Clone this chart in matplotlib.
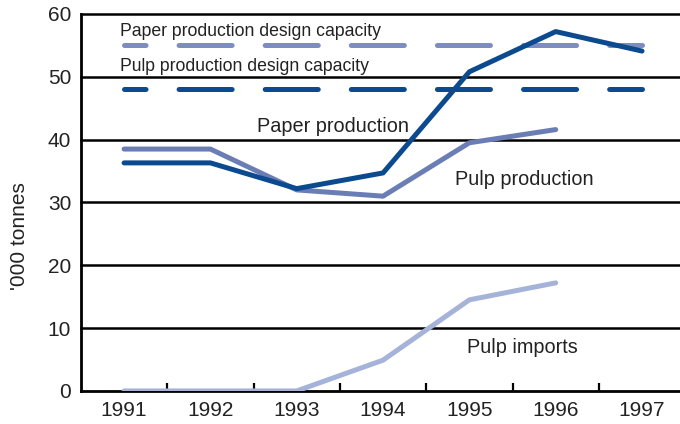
import matplotlib.pyplot as plt
from matplotlib.ticker import FixedLocator

plt.rcParams['font.family'] = ['Liberation Sans', 'DejaVu Sans']

years = [1991, 1992, 1993, 1994, 1995, 1996, 1997]
paper_production = [36.3, 36.3, 32.2, 34.7, 50.8, 57.2, 54.1]
pulp_years = [1991, 1992, 1993, 1994, 1995, 1996]
pulp_production = [38.5, 38.5, 32.0, 31.0, 39.5, 41.6]
pulp_imports = [0, 0, 0, 4.9, 14.5, 17.2]
paper_capacity = [55] * len(years)
pulp_capacity = [48] * len(years)

dark = '#0b4a8f'
mid = '#6a7db5'
light = '#a6b3d9'
cap_light = '#7d8dc2'
text_col = '#222222'

fig = plt.figure(figsize=(6.8, 4.24), dpi=100)
ax = fig.add_axes([0.119, 0.078, 0.881, 0.889])

lw = 3.6
# dash lengths in points, scaled by linewidth
on, off = 38.2 / lw, 23.8 / lw
dash = (on / 2 + 1.0, (on, off))

ax.plot(years, paper_capacity, color=cap_light, lw=lw, linestyle=dash,
        dash_capstyle='round', zorder=3)
ax.plot(years, pulp_capacity, color=dark, lw=lw, linestyle=dash,
        dash_capstyle='round', zorder=3)
ax.plot(pulp_years, pulp_imports, color=light, lw=lw, solid_capstyle='round', zorder=3)
ax.plot(pulp_years, pulp_production, color=mid, lw=lw, solid_capstyle='round', zorder=3)
ax.plot(years, paper_production, color=dark, lw=lw, solid_capstyle='round', zorder=4)

ax.set_xlim(1990.5, 1997.44)
ax.set_ylim(0, 60)

for v in range(10, 70, 10):
    ax.axhline(v, color='black', lw=1.8, zorder=1, clip_on=False)

for s in ['top', 'right']:
    ax.spines[s].set_visible(False)
ax.spines['left'].set_linewidth(2)
ax.spines['bottom'].set_linewidth(2)

ax.set_xticks(years)
ax.xaxis.set_minor_locator(FixedLocator([y + 0.5 for y in years[:-1]]))
ax.tick_params(axis='x', which='major', length=0, pad=7, labelsize=15, labelcolor=text_col)
ax.tick_params(axis='x', which='minor', direction='in', length=6, width=1.6, color='black')
ax.set_yticks(range(0, 70, 10))
ax.tick_params(axis='y', length=0, pad=7, labelsize=15, labelcolor=text_col)

# y label sits below the axes centre in the original
fig.text(20 / 680, 1 - 236 / 424, "'000 tonnes", fontsize=15, color=text_col,
         rotation=90, ha='center', va='center')

small = dict(fontsize=12.7, color=text_col, va='baseline', ha='left', zorder=5)
big = dict(small, fontsize=14.3)
ax.text(1990.95, 56.5, 'Paper production design capacity', **small)
ax.text(1990.95, 51.0, 'Pulp production design capacity', **small)
ax.text(1992.54, 41.2, 'Paper production', **big)
ax.text(1994.83, 32.8, 'Pulp production', **big)
ax.text(1994.97, 6.05, 'Pulp imports', **big)

fig.savefig('out.png', dpi=100)
